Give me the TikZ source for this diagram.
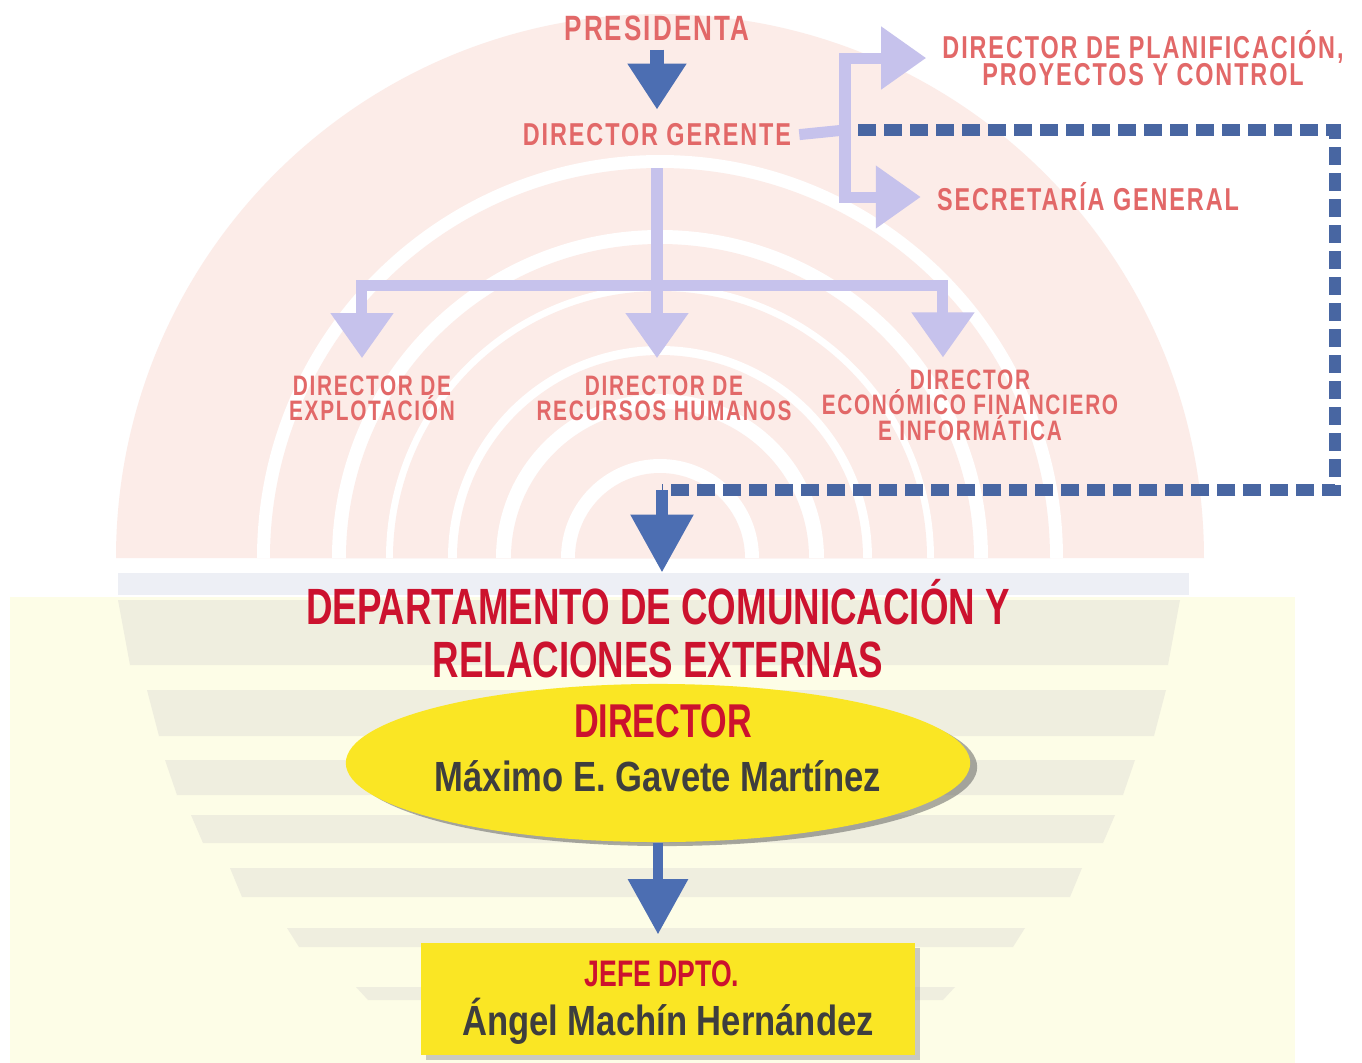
\documentclass[tikz,border=0pt]{standalone}
\usepackage{fontspec}
\setmainfont{Liberation Sans}
\newfontfamily\labfont{Liberation Sans}[FakeStretch=0.74,LetterSpace=6]
\newfontfamily\headfont{Liberation Sans}[FakeStretch=0.72]
\newfontfamily\namefont{Liberation Sans}[FakeStretch=0.82]
\usepackage{tikz}
\usetikzlibrary{arrows.meta, shapes.geometric, shadows}

\definecolor{labred}{RGB}{226,104,104}
\definecolor{deptred}{RGB}{204,18,46}
\definecolor{namegray}{RGB}{62,62,62}
\definecolor{arrblue}{RGB}{76,110,178}
\definecolor{lavender}{RGB}{198,194,236}
\definecolor{dashblue}{RGB}{72,102,162}
\definecolor{pinkbg}{RGB}{252,236,232}
\definecolor{ivory}{RGB}{253,253,231}
\definecolor{stripe}{RGB}{239,238,223}
\definecolor{stripeblue}{RGB}{237,239,245}
\definecolor{boxyellow}{RGB}{250,230,36}

\begin{document}
\begin{tikzpicture}[x=0.01cm, y=-0.01cm,
  lab/.style={font={\labfont\bfseries\fontsize{9}{7.7}\selectfont}, text=labred, align=center, inner sep=1pt},
  sublab/.style={lab, font={\labfont\bfseries\fontsize{8}{7.2}\selectfont}},
  dept/.style={font={\headfont\bfseries\fontsize{14.5}{15}\selectfont}, text=deptred, align=center, inner sep=1pt},
  dirlab/.style={font={\headfont\bfseries\fontsize{13.5}{13.5}\selectfont}, text=deptred, inner sep=1pt},
  namelab/.style={font={\namefont\bfseries\fontsize{12}{12}\selectfont}, text=namegray, inner sep=1pt},
  yellowell/.style={ellipse, fill=boxyellow, minimum width=6.24cm, minimum height=1.58cm, inner sep=0pt,
    drop shadow={shadow xshift=0.07cm, shadow yshift=-0.04cm, fill=black!65}},
  yellowbox/.style={rectangle, fill=boxyellow, minimum width=4.93cm, minimum height=1.12cm, inner sep=0pt,
    drop shadow={shadow xshift=0.05cm, shadow yshift=-0.05cm, fill=black!40}},
  bluearr/.style={draw=arrblue, line width=0.13cm, -{Triangle[width=0.56cm, length=0.46cm]}},
  lavline/.style={draw=lavender, line width=0.11cm},
  lavarr/.style={lavline, -{Triangle[width=0.6cm, length=0.45cm]}},
  dashline/.style={draw=dashblue, line width=0.12cm, dash pattern=on 0.18cm off 0.08cm}]

  \useasboundingbox (0,0) rectangle (1362,1063);

  % background: rings on top, stripes below
  \fill[white] (0,0) rectangle (1362,1063);
  \foreach \r/\c in {544/pinkbg, 403/white, 390/pinkbg, 328/white, 314/pinkbg, 274/white,
                     267/pinkbg, 212/white, 203/pinkbg, 164/white, 149/pinkbg, 99/white, 85/pinkbg}
    \fill[\c] ({660-\r},558) arc[start angle=180, end angle=360, radius=\r] -- cycle;
  \fill[stripeblue] (118,573) rectangle (1189,595);
  \fill[ivory] (10,597) rectangle (1295,1063);
  \foreach \ya/\yb/\xl/\xr in {600/665/118/1180, 690/736/147/1166, 760/795/165/1135, 815/843/191/1115,
                               868/897/230/1082, 928/947/287/1025, 987/1000/356/955}
    \fill[stripe] (\xl,\ya) -- (\xr,\ya) -- ({\xr-12},\yb) -- ({\xl+12},\yb) -- cycle;

  % upper chart
  \node[lab, font={\labfont\bfseries\fontsize{10}{10}\selectfont}] (pres) at (657,28) {PRESIDENTA};
  \node[lab] (dg) at (657,135) {DIRECTOR GERENTE};
  \node[lab] (plan) at (1143,58) {DIRECTOR DE PLANIFICACIÓN,\\PROYECTOS Y CONTROL};
  \node[lab] (sec) at (1088,197) {SECRETARÍA GENERAL};
  \node[sublab] (explo) at (372,398) {DIRECTOR DE\\EXPLOTACIÓN};
  \node[sublab] (rrhh) at (664,398) {DIRECTOR DE\\RECURSOS HUMANOS};
  \node[sublab] (econ) at (970,405) {DIRECTOR\\ECONÓMICO FINANCIERO\\E INFORMÁTICA};

  \coordinate (brk) at (845,130);
  \coordinate (hub) at (657,285);
  \draw[bluearr, shorten <=0.05cm, shorten >=0.1cm] (pres) -- (dg);
  \draw[lavline, shorten <=0.04cm] (dg.east) -- (brk);
  \draw[lavarr, shorten >=0.12cm] (brk) |- (plan.west);
  \draw[lavarr, shorten >=0.12cm] (brk) |- (sec.west);
  \draw[lavline, shorten <=0.18cm] (dg.south) -- (hub);
  \draw[lavarr, shorten >=0.13cm] (hub) -| ([xshift=-0.1cm]explo.north);
  \draw[lavarr, shorten >=0.13cm] (hub) -- (hub |- rrhh.north);
  \draw[lavarr, shorten >=0.08cm] (hub) -| ([xshift=-0.27cm]econ.north);

  % dashed link to the department
  \coordinate (dstart) at (858,130);
  \coordinate (dne) at (1335,130);
  \coordinate (dse) at (1335,490);
  \coordinate (turn) at (662,490);
  \draw[dashline] (dstart) -- (dne) -- (dse) -- (turn);

  % department
  \node[dept] (dept) at (658,629) {DEPARTAMENTO DE COMUNICACIÓN Y\\RELACIONES EXTERNAS};
  \draw[bluearr, line width=0.12cm, -{Triangle[width=0.6cm, length=0.58cm]}, shorten >=0.03cm] (turn) -- (turn |- dept.north);

  \node[yellowell] (dir) at (658,763) {};
  \node[dirlab] (dirt) at (663,721) {DIRECTOR};
  \node[namelab] (dirn) at (658,776) {Máximo E. Gavete Martínez};

  \node[yellowbox] (jefe) at (668,999) {};
  \node[dirlab, font={\headfont\bfseries\fontsize{10.5}{10.5}\selectfont}] (jefet) at (662,974) {JEFE DPTO.};
  \node[namelab] (jefen) at (668,1021) {Ángel Machín Hernández};

  \draw[bluearr, line width=0.09cm, -{Triangle[width=0.58cm, length=0.55cm]}, shorten >=0.08cm] (dir.south) -- (dir.south |- jefe.north);

\end{tikzpicture}
\end{document}
